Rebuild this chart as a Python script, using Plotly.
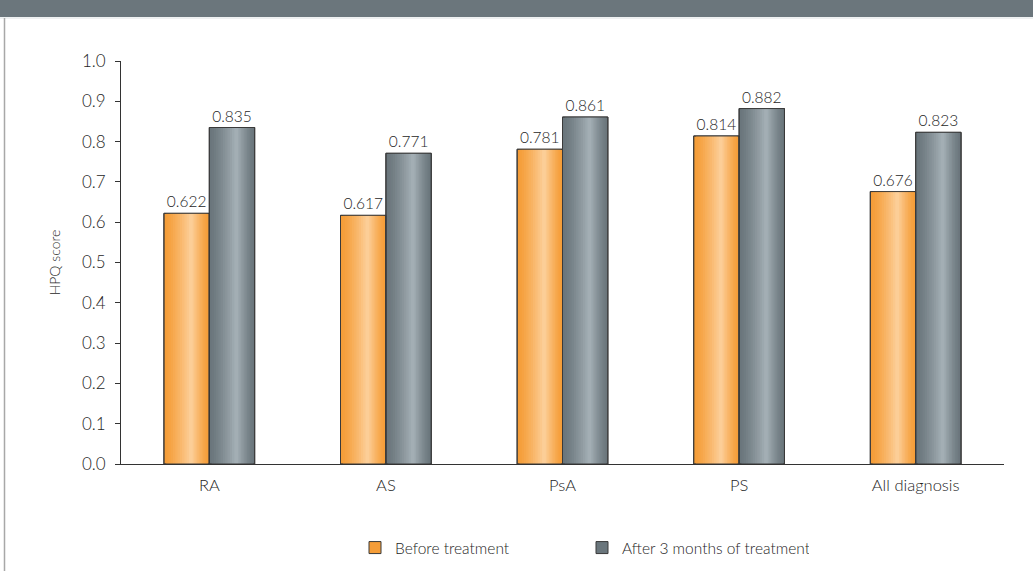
import plotly.graph_objects as go

categories = ["RA", "AS", "PsA", "PS", "All diagnosis"]
before_values = [0.622, 0.617, 0.781, 0.814, 0.676]
after_values = [0.835, 0.771, 0.861, 0.882, 0.823]
series_names = ["Before treatment", "After 3 months of treatment"]
y_ticks = [0.0, 0.1, 0.2, 0.3, 0.4, 0.5, 0.6, 0.7, 0.8, 0.9, 1.0]

FONT = "Lato"
TXT = "#1e1e1e"
WT = 300
W = 0.257          # bar width in category units
H = 0.6            # highlight position within a bar (fraction)
N = 12             # gradient layers

def lerp(c1, c2, t):
    return "rgb({},{},{})".format(*[round(a + (b - a) * t) for a, b in zip(c1, c2)])

styles = [
    dict(values=before_values, base=-W, edge=(245, 157, 56), center=(253, 212, 162)),
    dict(values=after_values, base=0.0, edge=(106, 118, 124), center=(170, 181, 187)),
]

fig = go.Figure()
for name, st in zip(series_names, styles):
    for k in range(N):
        t = k / N
        a = H * t
        b = 1 - (1 - H) * t
        fig.add_trace(go.Bar(
            x=categories, y=st["values"], name=name,
            width=W * (b - a), offset=st["base"] + W * a,
            marker=dict(color=lerp(st["edge"], st["center"], t ** 1.3),
                        line=dict(color="#3a3a3a", width=1 if k == 0 else 0)),
            showlegend=(k == 0), hoverinfo="skip", legendgroup=name,
        ))
for name, st in zip(series_names, styles):
    fig.add_trace(go.Bar(
        x=categories, y=st["values"], name=name,
        width=W, offset=st["base"],
        marker=dict(color="rgba(0,0,0,0)", line=dict(color="#3a3a3a", width=1)),
        text=[f"{v:.3f}" for v in st["values"]], textposition="outside",
        textfont=dict(family=FONT, size=15.5, color=TXT, weight=WT),
        cliponaxis=False, showlegend=False, legendgroup=name,
    ))

L, R, T, B = 121, 29, 61, 107
pw, ph = 1033 - L - R, 571 - T - B
def px(x):
    return (x - L) / pw
def py(y):
    return (571 - B - y) / ph

fig.update_layout(
    width=1033, height=571,
    margin=dict(l=L, r=R, t=T, b=B, autoexpand=False),
    paper_bgcolor="white", plot_bgcolor="white",
    barmode="overlay",
    font=dict(family=FONT, size=15, color=TXT, weight=WT),
    xaxis=dict(range=[-0.5, 4.5], showline=True, linecolor="#333333", linewidth=1,
               ticks="", showgrid=False, zeroline=False, automargin=False,
               tickfont=dict(family=FONT, size=16.5, color=TXT, weight=WT),
               ticklabelstandoff=6),
    yaxis=dict(range=[0, 1.0], tickvals=y_ticks, ticktext=[f"{v:.1f}" for v in y_ticks],
               showline=True, linecolor="#333333", linewidth=1,
               ticks="outside", ticklen=5, tickcolor="#333333",
               showgrid=False, zeroline=False, automargin=False,
               tickfont=dict(family=FONT, size=17, color=TXT, weight=WT),
               ticklabelstandoff=6,
               title=dict(text="HPQ score",
                          font=dict(family=FONT, size=14, color=TXT, weight=WT),
                          standoff=17)),
    legend=dict(orientation="h", x=px(355), xanchor="left", y=py(531), yanchor="top",
                font=dict(family=FONT, size=15.5, color=TXT, weight=WT),
                entrywidth=182, entrywidthmode="pixels", itemwidth=30,
                bgcolor="rgba(0,0,0,0)"),
    shapes=[
        dict(type="rect", xref="paper", yref="paper", x0=px(0), x1=px(1033),
             y0=py(17), y1=py(-2), fillcolor="#6b767c", line=dict(width=0), layer="above"),
        dict(type="line", xref="paper", yref="paper", x0=px(0), x1=px(1033),
             y0=py(18), y1=py(18), line=dict(color="#dde2e4", width=1)),
        dict(type="line", xref="paper", yref="paper", x0=px(4.5), x1=px(4.5),
             y0=py(18), y1=py(572), line=dict(color="#a8a8a8", width=1.5)),
    ],
)

fig.write_html("out.html")
